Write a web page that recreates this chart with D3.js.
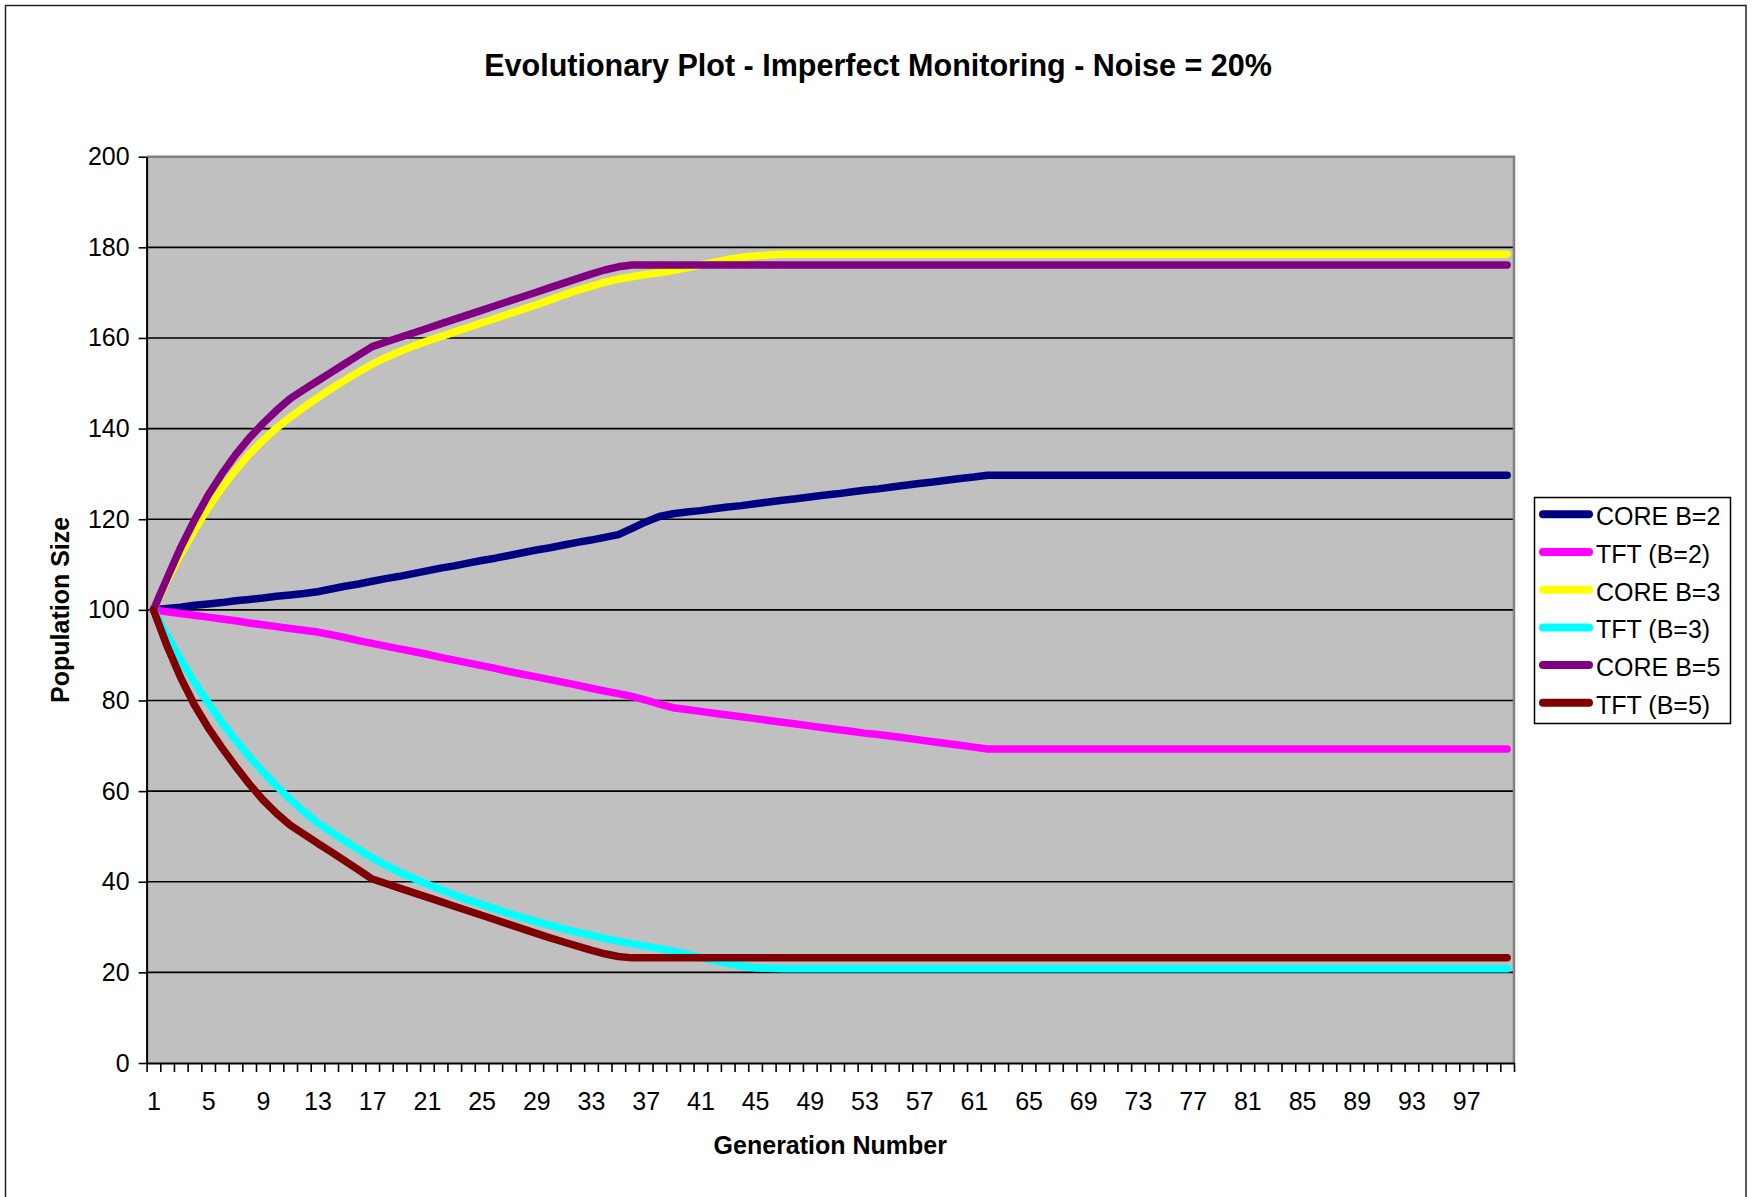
<!DOCTYPE html>
<html><head><meta charset="utf-8">
<script src="https://cdn.jsdelivr.net/npm/d3@7/dist/d3.min.js"></script>
<style>html,body{margin:0;padding:0;background:#fff;}svg{display:block;}
text{font-family:"Liberation Sans",Arial,sans-serif;fill:#000;}</style>
</head><body>
<script>
// ---------- data ----------
const generations = d3.range(1, 101);
const seriesNames = ["CORE B=2", "TFT (B=2)", "CORE B=3", "TFT (B=3)", "CORE B=5", "TFT (B=5)"];
const seriesColors = ["#000080", "#FF00FF", "#FFFF00", "#00FFFF", "#800080", "#800000"];
const xTickLabels = [1,5,9,13,17,21,25,29,33,37,41,45,49,53,57,61,65,69,73,77,81,85,89,93,97];
const yTickValues = [0,20,40,60,80,100,120,140,160,180,200];

function flat(v, n){ return new Array(n).fill(v); }

const coreB2 = [100,100.3,100.6,101.0,101.3,101.6,102.0,102.3,102.6,103.0,103.3,103.6,104.0,
  104.6,105.2,105.7,106.3,106.9,107.4,108.0,108.6,109.2,109.7,110.3,110.9,111.4,112.0,112.6,113.2,113.7,114.3,114.9,115.4,116.0,116.6,
  118.0,119.4,120.6,121.2,
  121.6,121.9,122.3,122.7,123.0,123.4,123.8,124.2,124.5,124.9,125.3,125.6,126.0,126.4,126.7,127.1,127.5,127.9,128.2,128.6,129.0,129.3,129.7]
  .concat(flat(129.7, 38));
const tftB2 = [100,99.6,99.2,98.8,98.4,98.0,97.6,97.1,96.7,96.3,95.9,95.5,95.1,
  94.5,93.9,93.2,92.6,92.0,91.4,90.8,90.2,89.5,88.9,88.3,87.7,87.1,86.4,85.8,85.2,84.6,84.0,83.4,82.7,82.1,81.5,
  80.9,80.1,79.2,78.4,
  78.0,77.6,77.2,76.8,76.4,76.0,75.6,75.2,74.8,74.4,74.0,73.6,73.2,72.8,72.5,72.1,71.7,71.3,70.9,70.5,70.1,69.7,69.3]
  .concat(flat(69.3, 38));
const coreB3 = [100,106.5,112.3,117.6,122.5,126.9,130.8,134.3,137.4,140.1,142.5,144.7,146.8,148.8,150.7,152.5,154.2,155.7,157.0,158.2,
  159.3,160.3,161.3,162.3,163.3,164.3,165.3,166.3,167.3,168.4,169.5,170.5,171.4,172.3,173.0,173.5,174.0,174.4,174.9,175.5,
  176.1,176.7,177.3,177.8,178.1,178.3,178.5].concat(flat(178.5, 53));
const tftB3 = [100,94.3,89.0,84.0,79.5,75.2,71.3,67.7,64.3,61.1,58.2,55.5,53.0,51.0,49.0,47.1,45.3,43.6,42.1,40.8,
  39.5,38.3,37.1,36.0,35.0,34.0,33.0,32.1,31.2,30.4,29.6,28.9,28.2,27.5,26.9,26.3,25.8,25.3,24.7,24.0,
  23.3,22.6,22.0,21.4,21.0,20.9,20.8].concat(flat(20.8, 53));
const coreB5 = [100,107.0,113.8,119.8,125.3,130.0,134.2,137.9,141.1,144.0,146.6,148.6,150.5,152.4,154.3,156.2,158.1,
  159.1,160.1,161.1,162.1,163.1,164.1,165.1,166.1,167.1,168.1,169.1,170.1,171.1,172.1,173.1,174.1,175.0,175.7,176.1]
  .concat(flat(176.1, 64));
const tftB5 = [100,92.0,85.0,79.0,74.0,69.6,65.5,61.6,58.1,55.1,52.5,50.5,48.5,46.6,44.6,42.6,40.6,
  39.6,38.6,37.6,36.6,35.6,34.6,33.6,32.6,31.6,30.6,29.6,28.6,27.6,26.7,25.8,24.9,24.1,23.5,23.2]
  .concat(flat(23.2, 64));
const seriesValues = [coreB2, tftB2, coreB3, tftB3, coreB5, tftB5];

// ---------- layout ----------
const W = 1755, H = 1197;
const px0 = 146.6, px1 = 1514, py0 = 156.7, py1 = 1063;
const svg = d3.select("body").append("svg").attr("width", W).attr("height", H);

// outer chart border
svg.append("rect").attr("x", 5.5).attr("y", 5.5).attr("width", 1740.5).attr("height", 1210)
  .attr("fill", "#fff").attr("stroke", "#222").attr("stroke-width", 1.5);

const x = d3.scaleLinear().domain([0.5, 100.5]).range([px0, px1]);
const y = d3.scaleLinear().domain([0, 200]).range([py1, py0]);

// plot area
svg.append("rect").attr("x", px0).attr("y", py0).attr("width", px1 - px0).attr("height", py1 - py0)
  .attr("fill", "#C0C0C0");

// gridlines
svg.append("g").selectAll("line").data(yTickValues.filter(v => v > 0 && v < 200)).join("line")
  .attr("x1", px0).attr("x2", px1).attr("y1", d => y(d)).attr("y2", d => y(d))
  .attr("stroke", "#000").attr("stroke-width", 1.6);

// plot border top/right
svg.append("path").attr("d", `M${px0},${py0}H${px1}V${py1}`).attr("fill", "none")
  .attr("stroke", "#808080").attr("stroke-width", 2.5);

// series lines
const line = d3.line().x((d, i) => x(generations[i])).y(d => y(d));
const gLines = svg.append("g");
seriesValues.forEach((vals, k) => {
  gLines.append("path").attr("d", line(vals)).attr("fill", "none")
    .attr("stroke", seriesColors[k]).attr("stroke-width", 7.5)
    .attr("stroke-linejoin", "round").attr("stroke-linecap", "round");
});

// y axis
const yAxis = d3.axisLeft(y).tickValues(yTickValues).tickSize(8).tickPadding(9).tickSizeOuter(0);
const gy = svg.append("g").attr("transform", `translate(${px0},0)`).call(yAxis);
gy.select(".domain").attr("stroke", "#000").attr("stroke-width", 2);
gy.selectAll(".tick line").attr("stroke", "#000").attr("stroke-width", 1.6);
gy.selectAll(".tick text").attr("font-size", 25).attr("fill", "#000")
  .attr("font-family", '"Liberation Sans",Arial,sans-serif');

// x axis: tick marks at category boundaries
const boundaries = d3.range(0, 101).map(i => i + 0.5);
const xTicks = d3.axisBottom(x).tickValues(boundaries).tickSize(9).tickFormat("").tickSizeOuter(0);
const gx = svg.append("g").attr("transform", `translate(0,${py1})`).call(xTicks);
gx.select(".domain").attr("stroke", "#000").attr("stroke-width", 2);
gx.selectAll(".tick line").attr("stroke", "#000").attr("stroke-width", 1.6);

const xLabels = d3.axisBottom(x).tickValues(xTickLabels).tickSize(0).tickPadding(29).tickFormat(d3.format("d"));
const gxl = svg.append("g").attr("transform", `translate(0,${py1})`).call(xLabels);
gxl.select(".domain").remove();
gxl.selectAll(".tick text").attr("font-size", 25).attr("fill", "#000")
  .attr("font-family", '"Liberation Sans",Arial,sans-serif');

// title
const title = svg.append("text").attr("x", 878).attr("y", 76).attr("text-anchor", "middle")
  .attr("font-weight", "bold").attr("font-size", 28)
  .text("Evolutionary Plot - Imperfect Monitoring - Noise = 20%");
const tw = title.node().getComputedTextLength();
title.attr("font-size", 28 * 788 / tw);

// axis titles
svg.append("text").attr("x", (px0 + px1) / 2).attr("y", 1154).attr("text-anchor", "middle")
  .attr("font-weight", "bold").attr("font-size", 25).text("Generation Number");
svg.append("text").attr("transform", `translate(69,${(py0 + py1) / 2}) rotate(-90)`)
  .attr("text-anchor", "middle").attr("font-weight", "bold").attr("font-size", 25).text("Population Size");

// legend
const lg = svg.append("g");
lg.append("rect").attr("x", 1534.5).attr("y", 497.5).attr("width", 196).attr("height", 226)
  .attr("fill", "#fff").attr("stroke", "#000").attr("stroke-width", 1.5);
const rowY = d3.scaleLinear().domain([0, 5]).range([514.3, 702.8]);
seriesNames.forEach((name, k) => {
  lg.append("line").attr("x1", 1543).attr("x2", 1589).attr("y1", rowY(k)).attr("y2", rowY(k))
    .attr("stroke", seriesColors[k]).attr("stroke-width", 8).attr("stroke-linecap", "round");
  lg.append("text").attr("x", 1596).attr("y", rowY(k) + 11).attr("font-size", 25).text(name);
});
</script>
</body></html>
